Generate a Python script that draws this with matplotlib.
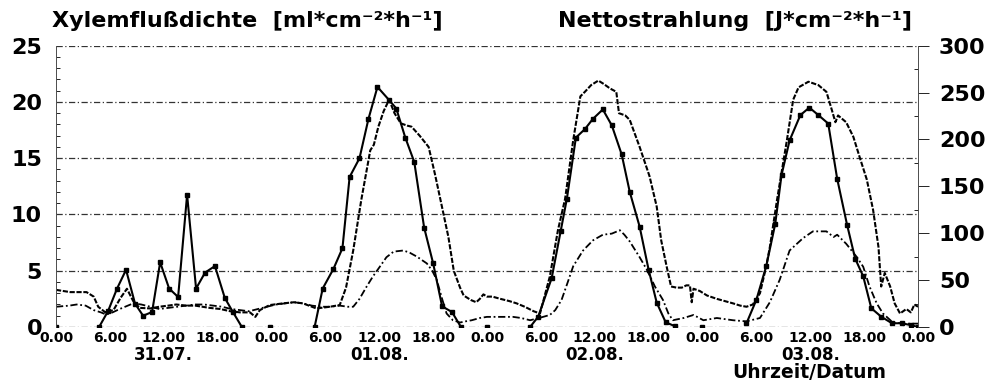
import numpy as np
import matplotlib
matplotlib.use('Agg')
from matplotlib import pyplot as plt
from matplotlib.ticker import MultipleLocator

nan = np.nan

# Nettostrahlung [J*cm-2*h-1], hourly, square markers (right axis)
rad_hours = [0.0, 0.5,
             4.8, 5.8, 6.8, 7.8, 8.8, 9.7, 10.7, 11.6, 12.6, 13.6, 14.6, 15.6, 16.6, 17.7, 18.8, 19.7, 20.7, 21.0,
             23.8, 24.0,
             28.8, 29.7, 30.9, 31.9, 32.7, 33.8, 34.8, 35.8, 37.1, 37.9, 38.9, 39.9, 41.0, 42.0, 43.0, 44.1, 45.1, 45.5,
             48.0, 48.5,
             52.8, 53.7, 55.2, 56.2, 56.9, 57.9, 58.9, 59.8, 60.9, 61.9, 63.0, 63.9, 65.0, 66.0, 66.9, 67.9, 68.9, 69.0,
             71.9, 72.0,
             76.9, 78.0, 79.1, 80.1, 80.8, 81.7, 82.9, 83.9, 84.9, 86.0, 87.0, 88.1, 89.0, 89.9, 90.8, 91.9, 93.1,
             94.2, 95.2, 96.0]
rad_values = [0, nan,
              0, 17, 41, 61, 25, 12, 16, 69, 41, 32, 141, 41, 58, 65, 31, 16, 0, nan,
              0, nan,
              0, 41, 62, 84, 160, 180, 222, 256, 242, 233, 202, 176, 106, 68, 22, 16, 0, nan,
              0, nan,
              0, 11, 52, 102, 137, 202, 211, 222, 232, 215, 184, 144, 107, 61, 26, 5, 1, nan,
              0, nan,
              4, 29, 65, 110, 162, 199, 226, 234, 226, 217, 158, 109, 73, 54, 20, 11, 4,
              4, 2, 0]

# Xylemflussdichte [ml*cm-2*h-1], upper curve (left axis)
flow1_hours = [0.0, 1.6, 3.4, 4.2, 4.7, 5.5, 6.4, 7.2, 7.9, 8.6, 9.3, 10.5, 11.5, 12.5, 13.4, 14.5,
               15.5, 17.1, 18.3, 19.4, 20.5, 21.6, 22.2, 22.7, 23.8, 25.3, 26.5, 27.5, 29.0, 30.5,
               31.6, 32.3, 33.1, 34.0, 35.0, 35.4, 35.9, 36.5, 37.1, 37.7, 38.4, 39.1, 39.6, 40.5,
               41.5, 42.2, 42.9, 43.7, 44.3, 45.0, 45.4, 46.2, 46.8, 47.2, 47.6, 48.0, 48.6, 49.5,
               50.5, 51.3, 52.2, 53.2, 53.9, 55.0, 55.9, 56.7, 57.6, 58.4, 58.9, 59.6, 60.4, 61.0,
               61.7, 62.4, 62.7, 63.4, 63.9, 65.0, 66.1, 66.9, 67.4, 68.0, 68.5, 69.1, 69.7, 70.2,
               70.6, 70.8, 71.0, 71.7, 72.5, 73.6, 74.5, 75.4, 76.2, 76.9, 77.6, 78.4, 79.1, 79.5,
               80.3, 81.4, 82.1, 82.7, 83.8, 84.9, 85.8, 86.4, 86.8, 87.1, 88.0, 88.8, 89.5, 90.3,
               91.0, 91.6, 91.9, 92.3, 92.9, 93.4, 94.0, 94.7, 95.2, 95.6, 96.0]
flow1_values = [3.3, 3.1, 3.1, 2.7, 1.8, 1.3, 1.5, 2.6, 3.4, 2.3, 1.7, 1.65, 1.8, 1.9, 2.0, 1.9,
                1.9, 1.7, 1.6, 1.4, 1.3, 1.3, 0.9, 1.5, 1.95, 2.1, 2.2, 2.1, 1.65, 1.8,
                1.95, 3.5, 6.8, 11.3, 15.7, 16.2, 17.8, 19.2, 20.2, 19.0, 18.1, 17.9, 17.8, 17.0,
                16.0, 13.6, 11.0, 8.0, 5.0, 3.5, 2.8, 2.4, 2.2, 2.5, 2.9, 2.7, 2.7, 2.5,
                2.3, 2.1, 1.8, 1.4, 1.2, 4.5, 8.6, 11.4, 16.6, 20.5, 20.9, 21.5, 21.9, 21.6,
                21.2, 20.9, 19.0, 18.8, 18.4, 16.0, 13.4, 10.7, 7.7, 5.4, 3.6, 3.5, 3.5, 3.7,
                3.7, 2.2, 3.4, 3.2, 2.8, 2.5, 2.3, 2.1, 1.9, 1.8, 2.0, 3.0, 5.4, 7.1,
                11.3, 16.6, 20.2, 21.3, 21.8, 21.5, 20.9, 19.3, 18.2, 18.8, 18.2, 16.9, 15.1, 13.1,
                10.4, 7.1, 3.6, 4.8, 3.6, 2.1, 1.2, 1.6, 1.3, 2.0, 1.8]

# Xylemflussdichte, lower curve (left axis)
flow2_hours = [0.0, 1.5, 2.3, 3.3, 4.2, 5.0, 5.6, 6.3, 7.1, 8.0, 8.6, 9.5, 10.5, 11.5, 12.5, 13.5,
               14.5, 15.5, 16.5, 17.5, 18.5, 19.5, 20.5, 21.5, 22.5, 23.5, 24.5, 25.5, 26.5, 27.5,
               28.5, 29.5, 30.5, 31.6, 32.5, 33.1, 33.8, 34.6, 35.3, 36.1, 36.8, 37.6, 38.7, 39.4,
               40.2, 41.3, 41.9, 42.4, 43.0, 43.5, 44.2, 45.0, 45.6, 46.3, 47.2, 48.0, 48.7, 49.8,
               50.9, 51.8, 52.8, 53.8, 55.0, 55.6, 56.3, 57.0, 57.6, 58.7, 59.8, 60.9, 61.9, 62.8,
               63.3, 63.9, 65.0, 65.8, 66.7, 67.6, 68.2, 68.7, 69.9, 71.0, 72.1, 73.6, 75.4, 76.9,
               78.4, 79.5, 80.6, 81.7, 83.2, 84.3, 85.8, 86.6, 87.0, 88.0, 89.2, 89.9, 90.6, 91.4,
               92.1, 93.2, 94.5, 96.0]
flow2_values = [1.8, 1.9, 2.0, 1.9, 1.5, 1.3, 1.1, 1.3, 1.6, 1.9, 2.1, 2.0, 1.8, 1.6, 1.7, 1.8,
                1.9, 2.0, 2.0, 1.9, 1.8, 1.6, 1.5, 1.4, 1.6, 1.8, 2.0, 2.1, 2.2, 2.1,
                1.9, 1.8, 1.8, 1.9, 1.8, 1.8, 2.5, 3.6, 4.5, 5.4, 6.2, 6.7, 6.8, 6.6,
                6.25, 5.65, 5.0, 4.2, 2.5, 1.2, 0.6, 0.4, 0.5, 0.6, 0.8, 0.9, 0.9, 0.9,
                0.9, 0.8, 0.6, 0.8, 1.07, 1.5, 2.4, 4.0, 5.4, 6.8, 7.7, 8.2, 8.3, 8.6,
                8.2, 7.6, 6.2, 5.1, 3.6, 2.4, 1.2, 0.6, 0.8, 1.07, 0.6, 0.8, 0.6, 0.5,
                0.8, 2.2, 4.2, 6.8, 7.9, 8.5, 8.5, 8.0, 8.2, 7.4, 6.2, 5.35, 3.6, 2.1,
                1.2, 0.4, 0.3, 0.3]

tick_hours = list(range(0, 97, 6))
tick_labels = ['0.00', '6.00', '12.00', '18.00'] * 4 + ['0.00']
date_hours = [12, 36, 60, 84]
date_labels = ['31.07.', '01.08.', '02.08.', '03.08.']

W, H = 997, 382
fig = plt.figure(figsize=(W / 100, H / 100), dpi=100)
ax = fig.add_axes([56 / W, 1 - 327 / H, 862 / W, (327 - 45.7) / H])
ax2 = ax.twinx()

ax.plot(flow1_hours, flow1_values, color='black', lw=1.5, ls=(0, (2.5, 0.8)))
ax.plot(flow2_hours, flow2_values, color='black', lw=1.3, ls=(0, (4, 1.5, 1, 1.5)))
ax2.plot(rad_hours, rad_values, color='black', lw=1.5, marker='s', ms=3.5)

ax.set_xlim(0, 96)
ax.set_ylim(0, 25)
ax2.set_ylim(0, 300)

ax.set_xticks(tick_hours)
ax.set_xticklabels(tick_labels, fontsize=10, fontweight='bold')
ax.tick_params(axis='x', length=0, pad=3)
ax.set_yticks([0, 5, 10, 15, 20, 25])
ax.yaxis.set_minor_locator(MultipleLocator(1))
ax.tick_params(axis='y', which='major', labelsize=16, length=0, pad=10)
ax.tick_params(axis='y', which='minor', direction='in', length=3, width=0.6)
for lab in ax.get_yticklabels():
    lab.set_fontweight('bold')

ax2.set_yticks([0, 50, 100, 150, 200, 250, 300])
ax2.yaxis.set_minor_locator(MultipleLocator(25))
ax2.tick_params(axis='y', which='major', labelsize=16, length=8, width=0.6, pad=7)
ax2.tick_params(axis='y', which='minor', direction='in', length=3, width=0.6)
for lab in ax2.get_yticklabels():
    lab.set_fontweight('bold')

ax.grid(axis='y', color='0.2', lw=0.9, ls=(0, (5, 2, 1, 2)))
for a in (ax, ax2):
    a.spines['top'].set_visible(False)
    a.spines['bottom'].set_visible(False)
    a.spines['left'].set_linewidth(0.6)
    a.spines['right'].set_linewidth(0.6)
    a.spines['left'].set_color('0.3')
    a.spines['right'].set_color('0.3')

for h, d in zip(date_hours, date_labels):
    ax.text(h, -0.1, d, transform=ax.get_xaxis_transform(), ha='center', va='center',
            fontsize=12, fontweight='bold')

fig.text(52 / W, 1 - 21 / H, 'Xylemflußdichte  [ml*cm⁻²*h⁻¹]', fontsize=16,
         fontweight='bold', va='center', ha='left')
fig.text(912 / W, 1 - 21 / H, 'Nettostrahlung  [J*cm⁻²*h⁻¹]', fontsize=16,
         fontweight='bold', va='center', ha='right')
fig.text(809 / W, 0.0, 'Uhrzeit/Datum', fontsize=13.5, fontweight='bold',
         va='bottom', ha='center')

fig.savefig('out.png', dpi=100)
